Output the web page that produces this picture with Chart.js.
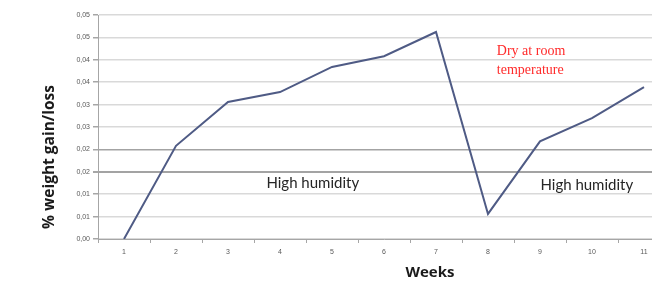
<!DOCTYPE html>
<html>
<head>
<meta charset="utf-8">
<script src="https://cdn.jsdelivr.net/npm/chart.js@4/dist/chart.umd.min.js"></script>
<style>
  html, body { margin: 0; padding: 0; background: #fff; overflow: hidden; }
  #wrap { width: 680px; height: 287px; }
</style>
</head>
<body>
<div id="wrap"><canvas id="chart" width="680" height="287"></canvas></div>
<script>
// weeks on the x axis
var weeks = ['1', '2', '3', '4', '5', '6', '7', '8', '9', '10', '11'];
// % weight gain/loss
var weightChange = [0.0, 0.0208, 0.0306, 0.0328, 0.0384, 0.0408, 0.0462, 0.0056, 0.0218, 0.027, 0.0339];
// the y labels are rounded to two decimals in the original
var yTickLabels = ['0,00', '0,01', '0,01', '0,02', '0,02', '0,03', '0,03', '0,04', '0,04', '0,05', '0,05'];

var lineColor = '#4f5b85';
var gridColor = '#d9d9d9';
var darkGridColor = '#a3a3a3';

// axis titles and the text notes inside the plot
var notes = {
    id: 'notes',
    afterDraw: function (chart) {
        var ctx = chart.ctx;
        var x = chart.scales.x;
        var y = chart.scales.y;
        ctx.save();
        ctx.textAlign = 'center';
        ctx.textBaseline = 'middle';

        ctx.fillStyle = '#262626';
        ctx.font = '15px Lato';
        ctx.fillText('High humidity', x.getPixelForValue(3.63), y.getPixelForValue(0.0125));
        ctx.fillText('High humidity', x.getPixelForValue(8.9), y.getPixelForValue(0.0121));

        ctx.fillStyle = '#ff2a2a';
        ctx.font = '14px "Liberation Serif"';
        ctx.textAlign = 'left';
        ctx.fillText('Dry at room', x.getPixelForValue(7.17), y.getPixelForValue(0.0418));
        ctx.fillText('temperature', x.getPixelForValue(7.17), y.getPixelForValue(0.0376));

        ctx.fillStyle = '#1a1a1a';
        ctx.textAlign = 'center';
        ctx.font = 'bold 15px "Open Sans"';
        ctx.fillText('Weeks', 430, 273);

        ctx.translate(50, 157);
        ctx.rotate(-Math.PI / 2);
        ctx.font = 'bold 15.5px "Open Sans"';
        ctx.fillText('% weight gain/loss', 0, 0);
        ctx.restore();
    }
};

new Chart(document.getElementById('chart'), {
    type: 'line',
    data: {
        labels: weeks,
        datasets: [{
            data: weightChange,
            borderColor: lineColor,
            borderWidth: 2,
            pointRadius: 0,
            tension: 0,
            fill: false,
        }],
    },
    options: {
        responsive: false,
        animation: false,
        layout: { padding: { left: 0, top: 15, right: 10, bottom: 0 } },
        plugins: {
            legend: { display: false },
            tooltip: { enabled: false },
        },
        scales: {
            x: {
                offset: true,
                border: { color: '#a6a6a6', width: 1 },
                grid: { offset: true, drawOnChartArea: false, drawTicks: true, tickLength: 4, color: '#a6a6a6' },
                ticks: { color: '#595959', font: { size: 7, family: 'Liberation Sans' }, padding: 5, maxRotation: 0, autoSkip: false },
                afterFit: function (scale) { scale.height = 48; },
            },
            y: {
                min: 0,
                max: 0.05,
                border: { color: '#a6a6a6', width: 1 },
                grid: {
                    color: function (c) { return (c.index === 3 || c.index === 4) ? darkGridColor : gridColor; },
                    lineWidth: function (c) { return c.index === 3 ? 2 : 1.5; },
                    tickLength: 5,
                    tickColor: '#a6a6a6',
                },
                ticks: {
                    stepSize: 0.005,
                    color: '#595959',
                    font: { size: 7, family: 'Liberation Sans' },
                    padding: 3,
                    callback: function (value, index) { return yTickLabels[index]; },
                },
                afterFit: function (scale) { scale.width = 98; },
            },
        },
    },
    plugins: [notes],
});
</script>
</body>
</html>
